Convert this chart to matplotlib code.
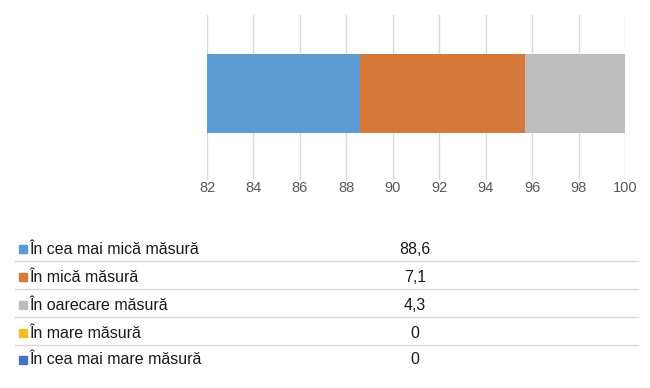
import matplotlib
matplotlib.use("Agg")
import matplotlib.pyplot as plt
from matplotlib.lines import Line2D
from matplotlib.patches import Rectangle

plt.rcParams['font.family'] = ['Liberation Sans', 'DejaVu Sans']

# date
categories = ["În cea mai mică măsură", "În mică măsură", "În oarecare măsură",
              "În mare măsură", "În cea mai mare măsură"]
values = [88.6, 7.1, 4.3, 0, 0]
value_labels = ["88,6", "7,1", "4,3", "0", "0"]
colors = ['#5B9BD5', '#D5793B', '#BDBDBD', '#F0BE28', '#4472C4']
xticks = [82, 84, 86, 88, 90, 92, 94, 96, 98, 100]

W, H = 650, 388
fig = plt.figure(figsize=(W / 100, H / 100), dpi=100)


def fx(px):
    return px / W


def fy(py):
    return 1 - py / H


ax = fig.add_axes([fx(207), fy(180), fx(625) - fx(207), fy(15) - fy(180)])

left = 0
for val, col in zip(values, colors):
    ax.barh(0, val, left=left, height=0.48, color=col, zorder=3)
    left += val

ax.set_xlim(82, 100)
ax.set_ylim(-0.524, 0.476)
ax.set_xticks(xticks)
ax.set_yticks([])
ax.grid(axis='x', color='#D9D9D9', linewidth=1, zorder=0)
for s in ax.spines.values():
    s.set_visible(False)
ax.tick_params(axis='x', length=0, pad=1, labelsize=10.5, labelcolor='#595959')

# tabel de date sub grafic
row_y = [249, 277, 305, 333, 360]
for i, (cat, lab, col) in enumerate(zip(categories, value_labels, colors)):
    y = row_y[i]
    fig.patches.append(Rectangle((fx(19), fy(y + 4)), fx(8), fy(y - 4) - fy(y + 4),
                                 transform=fig.transFigure, color=col))
    fig.text(fx(29), fy(y), cat, fontsize=11.5, color='#1a1a1a', va='center', ha='left')
    fig.text(fx(415), fy(y), lab, fontsize=11.5, color='#1a1a1a', va='center', ha='center')
    if i < len(categories) - 1:
        ly = fy(y + 12)
        fig.add_artist(Line2D([fx(15), fx(638)], [ly, ly], color='#D9D9D9', linewidth=1,
                              transform=fig.transFigure))

fig.savefig("out.png", dpi=100, facecolor='white')
